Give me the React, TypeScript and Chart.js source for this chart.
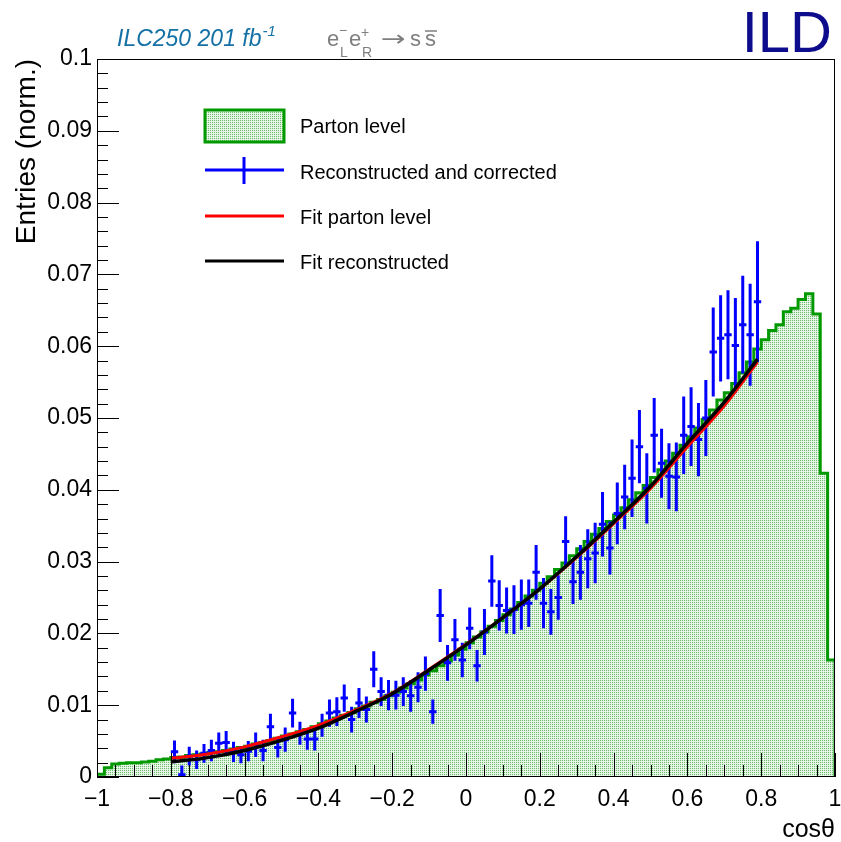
import React, { useEffect, useRef } from 'react';
import { Chart, registerables } from 'chart.js';

Chart.register(...registerables);

// ---------------- data ----------------
// Parton level histogram: 100 bins of width 0.02 from -1 to 1
const partonLevel = [
  0.0004, 0.0013, 0.0018, 0.0019, 0.0020, 0.0020, 0.0021, 0.0022, 0.0024, 0.0025,
  0.0027, 0.0028, 0.0030, 0.0031, 0.0032, 0.0034, 0.0035, 0.0037, 0.0039, 0.0041,
  0.0043, 0.0046, 0.0048, 0.0051, 0.0054, 0.0057, 0.0060, 0.0063, 0.0066, 0.0070,
  0.0074, 0.0078, 0.0082, 0.0086, 0.0090, 0.0095, 0.0099, 0.0104, 0.0108, 0.0113,
  0.0118, 0.0124, 0.0130, 0.0135, 0.0142, 0.0148, 0.0155, 0.0162, 0.0170, 0.0178,
  0.0187, 0.0195, 0.0202, 0.0210, 0.0218, 0.0226, 0.0234, 0.0243, 0.0252, 0.0260,
  0.0270, 0.0279, 0.0289, 0.0298, 0.0308, 0.0318, 0.0328, 0.0338, 0.0346, 0.0356,
  0.0365, 0.0375, 0.0386, 0.0396, 0.0406, 0.0417, 0.0428, 0.0440, 0.0451, 0.0462,
  0.0474, 0.0486, 0.0498, 0.0511, 0.0525, 0.0535, 0.0548, 0.0563, 0.0578, 0.0596,
  0.0609, 0.0622, 0.0630, 0.0648, 0.0653, 0.0665, 0.0673, 0.0645, 0.0423, 0.0163,
];
const HIST_MIN = -1;
const HIST_MAX = 1;
const HIST_BIN = 0.02;

// Reconstructed and corrected: 80 bins of width 0.02 from -0.8 to 0.8
const recoValues = [
  0.0035, 0.0003, 0.0029, 0.0024, 0.0033, 0.0037, 0.0047, 0.0048, 0.0035, 0.0031,
  0.0036, 0.0045, 0.0037, 0.0070, 0.0041, 0.0052, 0.0089, 0.0061, 0.0053, 0.0053,
  0.0072, 0.0089, 0.0091, 0.0110, 0.0080, 0.0103, 0.0094, 0.0150, 0.0119, 0.0114,
  0.0114, 0.0119, 0.0113, 0.0125, 0.0144, 0.0091, 0.0225, 0.0159, 0.0191, 0.0163,
  0.0207, 0.0155, 0.0202, 0.0273, 0.0239, 0.0232, 0.0233, 0.0240, 0.0242, 0.0285,
  0.0242, 0.0230, 0.0250, 0.0328, 0.0272, 0.0285, 0.0304, 0.0312, 0.0352, 0.0319,
  0.0367, 0.0390, 0.0416, 0.0460, 0.0402, 0.0476, 0.0437, 0.0419, 0.0418, 0.0476,
  0.0488, 0.0470, 0.0500, 0.0592, 0.0611, 0.0616, 0.0601, 0.0630, 0.0616, 0.0662,
];
const recoErrors = [
  0.0016, 0.0013, 0.0013, 0.0013, 0.0013, 0.0015, 0.0015, 0.0016, 0.0014, 0.0012,
  0.0014, 0.0017, 0.0015, 0.0018, 0.0014, 0.0017, 0.0020, 0.0016, 0.0015, 0.0016,
  0.0016, 0.0019, 0.0020, 0.0019, 0.0018, 0.0021, 0.0018, 0.0025, 0.0020, 0.0021,
  0.0020, 0.0020, 0.0022, 0.0021, 0.0024, 0.0017, 0.0037, 0.0025, 0.0029, 0.0024,
  0.0029, 0.0022, 0.0032, 0.0036, 0.0035, 0.0032, 0.0034, 0.0035, 0.0033, 0.0038,
  0.0035, 0.0032, 0.0031, 0.0035, 0.0031, 0.0038, 0.0041, 0.0042, 0.0045, 0.0037,
  0.0043, 0.0045, 0.0054, 0.0051, 0.0049, 0.0052, 0.0048, 0.0046, 0.0048, 0.0054,
  0.0055, 0.0051, 0.0053, 0.0062, 0.0060, 0.0062, 0.0066, 0.0068, 0.0071, 0.0084,
];
const RECO_MIN = -0.8;
const RECO_BIN = 0.02;

// Fit curves read at these cos(theta) values
const fitX = [-0.8, -0.7, -0.6, -0.5, -0.4, -0.3, -0.2, -0.1, 0, 0.1, 0.2, 0.3, 0.4, 0.5, 0.6, 0.7, 0.79];
const fitPartonValues = [
  0.0026, 0.0032, 0.0042, 0.0056, 0.0072, 0.0093, 0.0117, 0.0150, 0.0185,
  0.0222, 0.0262, 0.0306, 0.0353, 0.0402, 0.0460, 0.0517, 0.0578,
];
const fitRecoValues = [
  0.0021, 0.0027, 0.0037, 0.0051, 0.0068, 0.0091, 0.0116, 0.0149, 0.0184,
  0.0222, 0.0262, 0.0307, 0.0355, 0.0405, 0.0465, 0.0522, 0.0582,
];

const legendLabels = ['Parton level', 'Reconstructed and corrected', 'Fit parton level', 'Fit reconstructed'];

// ---------------- styles ----------------
const W = 841;
const H = 842;
const FONT = '"Liberation Sans", Arial, Helvetica, sans-serif';
const GREEN = '#009a00';
const BLUE = '#0000ff';
const RED = '#ff0000';

function makePattern(): CanvasPattern | string {
  const c = document.createElement('canvas');
  c.width = 2;
  c.height = 2;
  const g = c.getContext('2d');
  if (!g) return 'rgb(195,228,195)';
  g.fillStyle = 'rgb(222,240,222)';
  g.fillRect(0, 0, 2, 2);
  g.fillStyle = 'rgb(110,190,110)';
  g.fillRect(0, 0, 1, 1);
  g.fillStyle = 'rgb(240,249,240)';
  g.fillRect(1, 1, 1, 1);
  return g.createPattern(c, 'repeat') || 'rgb(195,228,195)';
}

function fmtX(value: number): string {
  const v = Math.round(value * 100) / 100;
  if (v === 0) return '0';
  return v < 0 ? '\u2212' + String(-v) : String(v);
}

export default function App() {
  const ref = useRef<HTMLCanvasElement | null>(null);

  useEffect(() => {
    const canvas = ref.current;
    if (!canvas) return;
    const pattern = makePattern();

    // histogram outline points at bin low edges; 'before' stepping holds each value over its bin
    const histPts: { x: number; y: number }[] = [{ x: HIST_MIN, y: 0 }];
    partonLevel.forEach((v, k) => histPts.push({ x: HIST_MIN + k * HIST_BIN, y: v }));
    histPts.push({ x: HIST_MAX, y: 0 });

    // error bar segments
    const errPts: { x: number; y: number | null }[] = [];
    recoValues.forEach((v, i) => {
      const c = RECO_MIN + RECO_BIN * (i + 0.5);
      const e = recoErrors[i];
      errPts.push({ x: c, y: v - e }, { x: c, y: v + e }, { x: c, y: null });
      errPts.push({ x: c - RECO_BIN / 2, y: v }, { x: c + RECO_BIN / 2, y: v }, { x: c, y: null });
    });

    const fitP = fitX.map((x, i) => ({ x, y: fitPartonValues[i] }));
    const fitR = fitX.map((x, i) => ({ x, y: fitRecoValues[i] }));

    const decorPlugin = {
      id: 'rootDecor',
      afterDraw(chart: any) {
        const ctx: CanvasRenderingContext2D = chart.ctx;
        const xs = chart.scales.x;
        const ys = chart.scales.y;
        const { left, right, top, bottom } = chart.chartArea;
        ctx.save();
        // frame
        ctx.strokeStyle = '#000';
        ctx.lineWidth = 1;
        ctx.strokeRect(left + 0.5, top + 0.5, right - left - 1, bottom - top - 1);
        // x ticks (inward)
        ctx.beginPath();
        for (let k = 0; k <= 40; k++) {
          const px = Math.round(xs.getPixelForValue(-1 + k * 0.05)) + 0.5;
          const len = k % 4 === 0 ? 24 : 12;
          ctx.moveTo(px, bottom);
          ctx.lineTo(px, bottom - len);
        }
        // y ticks (inward)
        for (let k = 0; k <= 50; k++) {
          const py = Math.round(ys.getPixelForValue(k * 0.002)) + 0.5;
          const len = k % 5 === 0 ? 22 : 11;
          ctx.moveTo(left, py);
          ctx.lineTo(left + len, py);
        }
        ctx.stroke();

        // legend
        const lx0 = 205;
        const lx1 = 284;
        ctx.fillStyle = pattern as any;
        ctx.fillRect(lx0, 110, lx1 - lx0, 32);
        ctx.strokeStyle = GREEN;
        ctx.lineWidth = 3;
        ctx.strokeRect(lx0, 110, lx1 - lx0, 32);
        ctx.strokeStyle = BLUE;
        ctx.beginPath();
        ctx.moveTo(lx0, 170);
        ctx.lineTo(lx1, 170);
        ctx.moveTo(244, 157);
        ctx.lineTo(244, 184);
        ctx.stroke();
        ctx.strokeStyle = RED;
        ctx.beginPath();
        ctx.moveTo(lx0, 216);
        ctx.lineTo(lx1, 216);
        ctx.stroke();
        ctx.strokeStyle = '#000';
        ctx.beginPath();
        ctx.moveTo(lx0, 261);
        ctx.lineTo(lx1, 261);
        ctx.stroke();
        ctx.fillStyle = '#000';
        ctx.font = '20px ' + FONT;
        ctx.textAlign = 'left';
        ctx.textBaseline = 'middle';
        const ly = [127, 173, 218, 263];
        legendLabels.forEach((t, i) => ctx.fillText(t, 300, ly[i]));

        // y axis title
        ctx.save();
        ctx.translate(35, 59);
        ctx.rotate(-Math.PI / 2);
        ctx.font = '28px ' + FONT;
        ctx.textAlign = 'right';
        ctx.textBaseline = 'alphabetic';
        ctx.fillText('Entries (norm.)', 0, 0);
        ctx.restore();

        // x axis title
        ctx.font = '25px ' + FONT;
        ctx.textAlign = 'right';
        ctx.textBaseline = 'alphabetic';
        ctx.fillText('cos\u03b8', 835, 837);

        // ILC250 label
        ctx.textAlign = 'left';
        ctx.fillStyle = '#1570a6';
        ctx.font = 'italic 23px ' + FONT;
        const ilc = 'ILC250 201 fb';
        ctx.fillText(ilc, 117, 46);
        const wIlc = ctx.measureText(ilc).width;
        ctx.font = 'italic 15px ' + FONT;
        ctx.fillText('-1', 117 + wIlc + 1, 36);

        // process label
        ctx.fillStyle = '#7f7f7f';
        ctx.font = '22px ' + FONT;
        ctx.fillText('e', 327, 46);
        ctx.font = '14px ' + FONT;
        ctx.fillText('\u2212', 339, 35);
        ctx.fillText('L', 340, 57);
        ctx.font = '22px ' + FONT;
        ctx.fillText('e', 349, 46);
        ctx.font = '14px ' + FONT;
        ctx.fillText('+', 361, 37);
        ctx.fillText('R', 362, 57);
        ctx.font = '22px "DejaVu Sans", ' + FONT;
        ctx.save();
        ctx.translate(381, 46);
        ctx.scale(1.35, 1);
        ctx.fillText('\u2192', 0, 0);
        ctx.restore();
        ctx.font = '22px ' + FONT;
        ctx.fillText('s', 410, 46);
        ctx.fillText('s', 425, 46);
        ctx.strokeStyle = '#7f7f7f';
        ctx.lineWidth = 1.5;
        ctx.beginPath();
        ctx.moveTo(425, 31);
        ctx.lineTo(437, 31);
        ctx.stroke();

        // ILD
        ctx.fillStyle = '#0c0c8c';
        ctx.font = '58px ' + FONT;
        ctx.textAlign = 'right';
        ctx.fillText('ILD', 832, 52);
        ctx.restore();
      },
    };

    const chart = new Chart(canvas, {
      type: 'line',
      data: {
        datasets: [
          {
            label: legendLabels[0],
            data: histPts,
            stepped: 'before',
            borderColor: GREEN,
            borderWidth: 3,
            backgroundColor: pattern as any,
            fill: 'origin',
            pointRadius: 0,
            order: 4,
          } as any,
          {
            label: legendLabels[1],
            data: errPts,
            borderColor: BLUE,
            borderWidth: 3,
            pointRadius: 0,
            spanGaps: false,
            fill: false,
            order: 3,
          },
          {
            label: legendLabels[2],
            data: fitP,
            borderColor: RED,
            borderWidth: 3,
            pointRadius: 0,
            cubicInterpolationMode: 'monotone',
            fill: false,
            order: 2,
          },
          {
            label: legendLabels[3],
            data: fitR,
            borderColor: '#000',
            borderWidth: 3.5,
            pointRadius: 0,
            cubicInterpolationMode: 'monotone',
            fill: false,
            order: 1,
          },
        ],
      },
      options: {
        responsive: false,
        animation: false,
        devicePixelRatio: 1,
        layout: { padding: { left: 0, right: W - 835, top: 59, bottom: 0 } },
        plugins: { legend: { display: false }, tooltip: { enabled: false }, title: { display: false } },
        scales: {
          x: {
            type: 'linear',
            min: -1,
            max: 1,
            grid: { display: false, drawTicks: false },
            border: { display: false },
            ticks: {
              stepSize: 0.2,
              color: '#000',
              padding: 9,
              font: { family: FONT, size: 23 },
              maxRotation: 0,
              autoSkip: false,
              callback: (v: any) => fmtX(Number(v)),
            },
            afterFit: (s: any) => {
              s.height = H - 777;
              s.paddingLeft = 0;
              s.paddingRight = 0;
            },
          },
          y: {
            type: 'linear',
            min: 0,
            max: 0.1,
            grid: { display: false, drawTicks: false },
            border: { display: false },
            ticks: {
              stepSize: 0.01,
              color: '#000',
              padding: 5,
              font: { family: FONT, size: 23 },
              autoSkip: false,
              callback: (v: any) => String(Math.round(Number(v) * 1000) / 1000),
            },
            afterFit: (s: any) => {
              s.width = 97;
              s.paddingTop = 0;
              s.paddingBottom = 0;
            },
          },
        },
      },
      plugins: [decorPlugin],
    });

    return () => chart.destroy();
  }, []);

  return (
    <div style={{ position: 'fixed', left: 0, top: 0, width: W, height: H, background: '#fff' }}>
      <canvas ref={ref} width={W} height={H} style={{ display: 'block', width: W, height: H }} />
    </div>
  );
}
